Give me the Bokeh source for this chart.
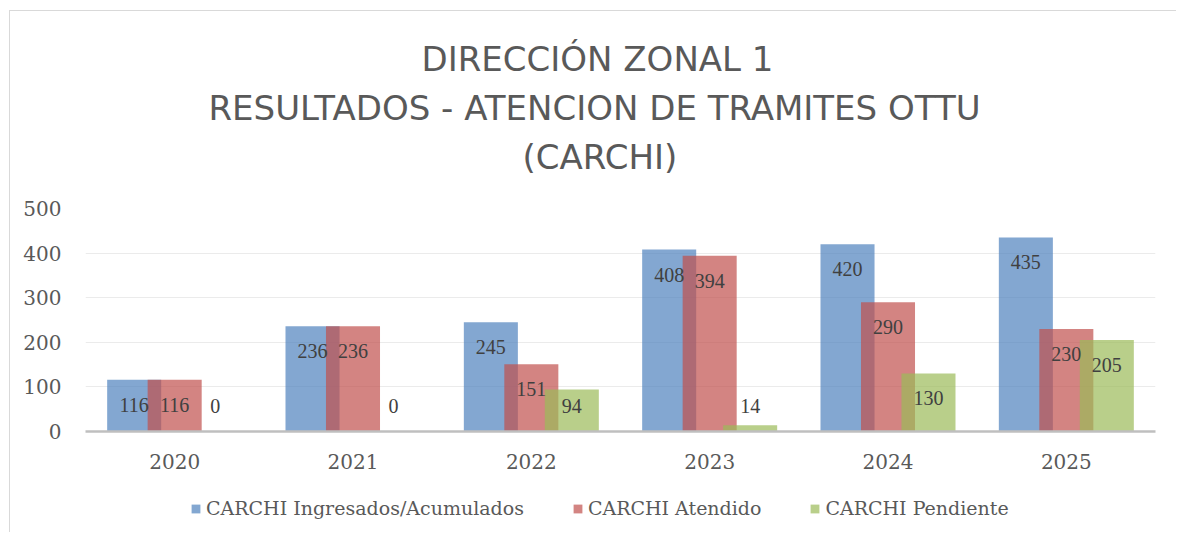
from bokeh.plotting import figure
from bokeh.models import (ColumnDataSource, FactorRange, Range1d, Title, Legend,
                          LegendItem, LabelSet)
from bokeh.layouts import column
from bokeh.transform import dodge
from bokeh.embed import file_html
from bokeh.resources import INLINE
import numpy as np

years = ["2020", "2021", "2022", "2023", "2024", "2025"]
ingresados = [116, 236, 245, 408, 420, 435]
atendido = [116, 236, 151, 394, 290, 230]
pendiente = [0, 0, 94, 14, 130, 205]
series_names = ["CARCHI Ingresados/Acumulados", "CARCHI Atendido", "CARCHI Pendiente"]
colors = ["#4F81BD", "#C0504D", "#9BBB59"]
title_lines = ["DIRECCIÓN ZONAL 1", "RESULTADOS - ATENCION DE TRAMITES OTTU", "(CARCHI)"]
title_offsets = [336, 123, 437]
y_ticks = [0, 100, 200, 300, 400, 500]

SERIF = "DejaVu Serif"
SANS = "DejaVu Sans"

def lab_y(vals):
    v = np.array(vals, dtype=float)
    return np.maximum(v - 56, 58)

src = ColumnDataSource(dict(
    years=years, ing=ingresados, ate=atendido, pen=pendiente,
    ing_l=lab_y(ingresados), ate_l=lab_y(atendido), pen_l=lab_y(pendiente),
    ing_t=[str(v) for v in ingresados], ate_t=[str(v) for v in atendido],
    pen_t=[str(v) for v in pendiente],
))

p = figure(x_range=FactorRange(*years, range_padding=0), y_range=Range1d(0, 500),
           frame_width=1070, frame_height=223, output_backend="svg", toolbar_location=None,
           min_border_left=75, min_border_right=21, min_border_top=197, min_border_bottom=45)
p.outline_line_color = None

p.add_layout(Title(text=" ", text_font_size="20px", standoff=4), "above")
for txt, off in reversed(list(zip(title_lines, title_offsets))):
    p.add_layout(Title(text=txt, align="left", text_font=SANS, text_font_size="34px",
                       text_font_style="normal", text_color="#595959", standoff=7,
                       offset=off), "above")

offsets = [-0.227, 0.0, 0.227]
fields = ["ing", "ate", "pen"]
renderers = []
for off, f, c in zip(offsets, fields, colors):
    r = p.vbar(x=dodge("years", off, range=p.x_range), top=f, width=0.303, bottom=0,
               source=src, fill_color=c, fill_alpha=0.7, line_color=None)
    renderers.append(r)

for off, f in zip(offsets, fields):
    ls = LabelSet(x=dodge("years", off, range=p.x_range), y=f + "_l", text=f + "_t",
                  source=src, text_align="center", text_baseline="middle",
                  text_font=SERIF, text_font_size="20px", text_color="#404040")
    p.add_layout(ls)

p.yaxis.ticker = y_ticks
p.yaxis.axis_line_color = None
p.yaxis.major_tick_line_color = None
p.yaxis.minor_tick_line_color = None
p.yaxis.major_label_text_font = SERIF
p.yaxis.major_label_text_font_size = "20px"
p.yaxis.major_label_text_color = "#595959"
p.yaxis.major_label_standoff = 18

p.xaxis.axis_line_color = "#bfbfbf"
p.xaxis.axis_line_width = 2.5
p.xaxis.major_tick_line_color = None
p.xaxis.minor_tick_line_color = None
p.xaxis.major_label_text_font = SERIF
p.xaxis.major_label_text_font_size = "20px"
p.xaxis.major_label_text_color = "#595959"
p.xaxis.major_label_standoff = 16

p.xgrid.grid_line_color = None
p.ygrid.grid_line_color = "#ebebeb"
p.ygrid.grid_line_width = 1

# legend strip below the chart (its bars fall outside its y range, only the legend shows)
q = figure(x_range=FactorRange(*years, range_padding=0), y_range=Range1d(1000, 1001),
           frame_width=1166, frame_height=56,
           output_backend="svg", toolbar_location=None, x_axis_type=None, y_axis_type=None,
           min_border_left=0, min_border_right=0, min_border_top=0, min_border_bottom=0)
q.outline_line_color = None
q.xgrid.grid_line_color = None
q.ygrid.grid_line_color = None
leg_r = []
for off, f, c in zip(offsets, fields, colors):
    leg_r.append(q.vbar(x=dodge("years", off, range=q.x_range), top=f, width=0.303, bottom=0,
                        source=src, fill_color=c, fill_alpha=0.7, line_color=None))
legend = Legend(items=[LegendItem(label=n, renderers=[r]) for n, r in zip(series_names, leg_r)],
                orientation="horizontal", location=(180, 13),
                label_text_font=SERIF, label_text_font_size="19px", label_text_color="#595959",
                glyph_width=11, glyph_height=11, label_standoff=5, spacing=48,
                border_line_color=None, background_fill_alpha=0, margin=0, padding=4)
q.add_layout(legend, "center")

layout = column(p, q, spacing=0,
                styles={"margin-left": "9px", "margin-top": "10px",
                        "border-top": "1px solid #d9d9d9", "border-left": "1px solid #d9d9d9"})

open("out.html", "w").write(file_html(layout, INLINE))
